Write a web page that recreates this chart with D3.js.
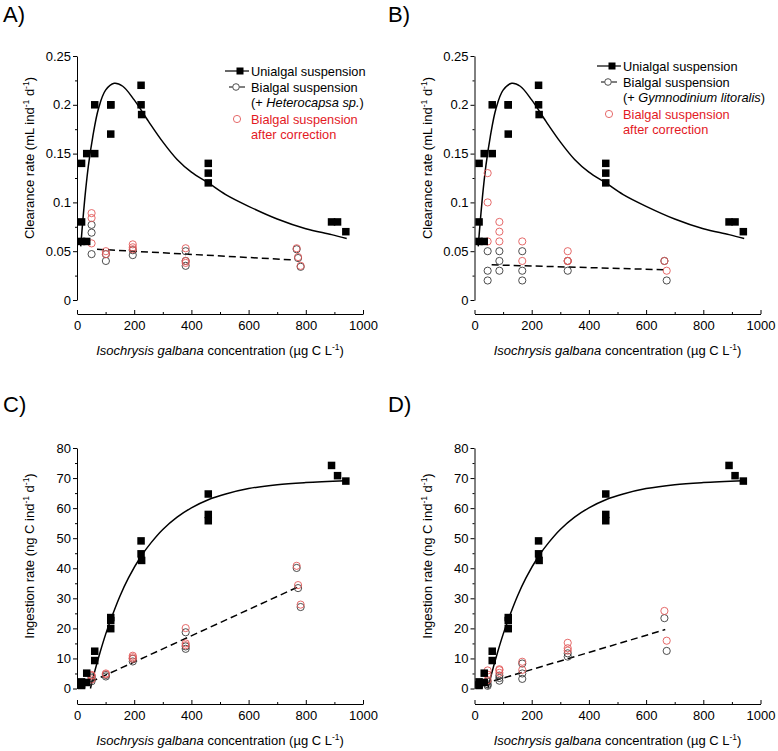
<!DOCTYPE html>
<html><head><meta charset="utf-8">
<script src="https://cdn.jsdelivr.net/npm/d3@7/dist/d3.min.js"></script>
<style>body{margin:0;background:#fff}svg{display:block}text{font-family:"Liberation Sans",Arial,sans-serif}</style>
</head><body>
<svg id="c" width="778" height="751"></svg>
<script>
// ---------- DATA ----------
const panelLetters = ["A)", "B)", "C)", "D)"];
const xTicks = [0, 200, 400, 600, 800, 1000];
const xMinorTicks = [100, 300, 500, 700, 900];
const clearTicks = [0, 0.05, 0.1, 0.15, 0.2, 0.25];
const clearMinor = [0.025, 0.075, 0.125, 0.175, 0.225];
const ingTicks = [0, 10, 20, 30, 40, 50, 60, 70, 80];
const ingMinor = [5, 15, 25, 35, 45, 55, 65, 75];

// Unialgal suspension (I. galbana alone)
const uniConc   = [16, 16, 16, 34, 34, 62, 62, 118, 118, 118, 224, 224, 226, 459, 459, 459, 890, 911, 940];
const uniClear  = [0.14, 0.08, 0.06, 0.06, 0.15, 0.15, 0.20, 0.20, 0.20, 0.17, 0.20, 0.22, 0.19, 0.14, 0.13, 0.12, 0.08, 0.08, 0.07];
const uniIngest = [2.2, 1.3, 1.0, 2.0, 5.1, 9.3, 12.4, 23.6, 22.6, 19.9, 44.8, 49.1, 42.6, 64.7, 57.9, 55.8, 74.2, 70.8, 69.0];

// fitted curves
const fitClearConc = [13, 20, 30, 40, 55, 75, 100, 130, 160, 200, 250, 300, 350, 400, 459, 520, 600, 700, 800, 890, 943];
const fitClearVal  = [0.055, 0.080, 0.112, 0.138, 0.167, 0.196, 0.215, 0.222, 0.219, 0.205, 0.183, 0.162, 0.144, 0.131, 0.120, 0.108, 0.096, 0.083, 0.073, 0.067, 0.063];
const fitIngConc = [47, 62, 80, 100, 118, 150, 180, 224, 260, 300, 350, 400, 459, 520, 600, 700, 800, 940];
const fitIngVal  = [0, 5.7, 11.8, 18.0, 22.9, 30.7, 36.8, 44.0, 48.6, 52.9, 57.0, 60.1, 62.8, 64.7, 66.5, 67.8, 68.5, 69.1];

// Bialgal suspension (+ Heterocapsa sp.)
const hetBlackConc  = [51, 51, 51, 101, 101, 195, 195, 380, 380, 380, 768, 773, 782];
const hetBlackClear = [0.047, 0.069, 0.077, 0.040, 0.047, 0.051, 0.046, 0.050, 0.040, 0.035, 0.052, 0.043, 0.034];
const hetBlackIng   = [2.4, 3.5, 4.0, 4.0, 4.5, 9.9, 9.0, 18.7, 14.0, 13.2, 40.1, 33.4, 27.1];
const hetRedConc    = [51, 51, 51, 101, 101, 195, 195, 195, 380, 380, 380, 768, 773, 782];
const hetRedClear   = [0.089, 0.084, 0.058, 0.050, 0.047, 0.057, 0.054, 0.052, 0.053, 0.040, 0.038, 0.053, 0.044, 0.035];
const hetRedIng     = [4.5, 4.3, 3.0, 5.0, 4.7, 10.9, 10.4, 9.9, 20.1, 15.0, 14.4, 40.8, 34.4, 27.9];
const hetFitConc  = [70, 760];
const hetFitClear = [0.052, 0.041];
const hetFitIngConc = [48, 773];
const hetFitIng     = [2.2, 33.8];

// Bialgal suspension (+ Gymnodinium litoralis)
const gymBlackConc  = [46, 46, 46, 87, 87, 87, 167, 167, 167, 326, 326, 664, 672];
const gymBlackClear = [0.05, 0.03, 0.02, 0.05, 0.04, 0.03, 0.05, 0.03, 0.02, 0.04, 0.03, 0.04, 0.02];
const gymBlackIng   = [2.3, 1.4, 0.9, 4.3, 3.5, 2.6, 8.3, 5.0, 3.2, 11.7, 10.6, 23.4, 12.5];
const gymRedConc    = [46, 46, 46, 87, 87, 87, 167, 167, 326, 326, 326, 664, 672];
const gymRedClear   = [0.13, 0.10, 0.06, 0.08, 0.07, 0.06, 0.06, 0.04, 0.05, 0.04, 0.04, 0.04, 0.03];
const gymRedIng     = [6.0, 4.6, 2.8, 6.4, 6.1, 5.2, 8.9, 6.2, 15.2, 13.4, 12.6, 25.8, 15.9];
const gymFitConc  = [60, 663];
const gymFitClear = [0.036, 0.031];
const gymFitIngConc = [31, 667];
const gymFitIng     = [1.5, 19.6];

// ---------- DRAW ----------
const svg = d3.select("#c");
const BLACK_C = "#3a3a3a", RED_C = "#e25a5a", RED_T = "#e3191f";
const FS = 13;

function zip(a, b) { return a.map((v, i) => [v, b[i]]); }

function panel(o) {
  const g = svg.append("g");
  const x = d3.scaleLinear().domain([0, 1000]).range([o.x0, o.x0 + 286]);
  const y = d3.scaleLinear().domain(o.yDomain).range([o.yBot, o.yTop]);

  // x axis (offset below)
  g.append("g").attr("transform", `translate(0,${o.xAxisY})`)
    .call(d3.axisBottom(x).tickValues(xTicks).tickSize(-4).tickSizeOuter(0).tickPadding(6.5).tickFormat(d3.format("d")));
  g.append("g").attr("transform", `translate(0,${o.xAxisY})`)
    .call(d3.axisBottom(x).tickValues(xMinorTicks).tickSize(-2).tickSizeOuter(0).tickFormat(""))
    .select(".domain").remove();
  // y axis
  g.append("g").attr("transform", `translate(${o.x0},0)`)
    .call(d3.axisLeft(y).tickValues(o.yTicks).tickSize(4).tickSizeOuter(0).tickPadding(2).tickFormat(o.fmt));
  g.append("g").attr("transform", `translate(${o.x0},0)`)
    .call(d3.axisLeft(y).tickValues(o.yMinor).tickSize(2).tickSizeOuter(0).tickFormat(""))
    .select(".domain").remove();
  g.selectAll(".tick text").attr("font-size", FS).attr("font-family", "Liberation Sans, Arial, sans-serif").attr("fill", "#000");
  g.selectAll(".domain, .tick line").attr("stroke", "#000").attr("stroke-width", 1);

  // x title
  const xt = g.append("text").attr("x", o.x0 + 143).attr("y", o.xAxisY + 41).attr("text-anchor", "middle").attr("font-size", FS);
  xt.append("tspan").attr("font-style", "italic").text("Isochrysis galbana");
  xt.append("tspan").text(" concentration (µg C L");
  xt.append("tspan").attr("dy", -5).attr("font-size", 8.5).text("-1");
  xt.append("tspan").attr("dy", 5).text(")");
  // y title
  const yt = g.append("text").attr("transform", `translate(${o.x0 - 43},${o.yTitleY}) rotate(-90)`).attr("text-anchor", "middle").attr("font-size", FS);
  o.yTitle.forEach(p => {
    const t = yt.append("tspan").text(p.t);
    if (p.sup) t.attr("dy", -5).attr("font-size", 8.5);
    if (p.down) t.attr("dy", 5);
  });
  // panel letter
  g.append("text").attr("x", o.letterX).attr("y", o.letterY).attr("font-family", "Liberation Serif, Times New Roman, serif").attr("font-size", 22).text(o.letter);

  // fitted lines
  g.append("path").datum(zip(o.fitX, o.fitY)).attr("fill", "none").attr("stroke", "#000").attr("stroke-width", 1.5)
    .attr("d", d3.line().x(d => x(d[0])).y(d => y(d[1])).curve(d3.curveCatmullRom.alpha(0.5)));
  g.append("path").datum(zip(o.dashX, o.dashY)).attr("fill", "none").attr("stroke", "#000").attr("stroke-width", 1.5)
    .attr("stroke-dasharray", "7,4").attr("d", d3.line().x(d => x(d[0])).y(d => y(d[1])));

  // circles
  g.selectAll(".bc").data(zip(o.bX, o.bY)).join("circle").attr("cx", d => x(d[0])).attr("cy", d => y(d[1]))
    .attr("r", 3.6).attr("fill", "none").attr("stroke", BLACK_C).attr("stroke-width", 0.9);
  g.selectAll(".rc").data(zip(o.rX, o.rY)).join("circle").attr("cx", d => x(d[0])).attr("cy", d => y(d[1]))
    .attr("r", 3.6).attr("fill", "none").attr("stroke", RED_C).attr("stroke-width", 0.9);
  // squares
  g.selectAll(".sq").data(zip(uniConc, o.uniY)).join("rect").attr("x", d => x(d[0]) - 3.75).attr("y", d => y(d[1]) - 3.75)
    .attr("width", 7.5).attr("height", 7.5).attr("fill", "#000");

  // legend
  if (o.legend) {
    const L = o.legend, lx = L.x, ly = L.y, gl = g.append("g").attr("font-size", 12.8);
    gl.append("line").attr("x1", lx - 26).attr("x2", lx - 2).attr("y1", ly).attr("y2", ly).attr("stroke", "#000").attr("stroke-width", 1.2);
    gl.append("rect").attr("x", lx - 14.5).attr("y", ly - 3.5).attr("width", 7).attr("height", 7).attr("fill", "#000");
    gl.append("text").attr("x", lx).attr("y", ly + 4.5).text("Unialgal suspension");
    gl.append("line").attr("x1", lx - 22).attr("x2", lx - 18.5).attr("y1", ly + 16).attr("y2", ly + 16).attr("stroke", "#000");
    gl.append("line").attr("x1", lx - 11.5).attr("x2", lx - 6).attr("y1", ly + 16).attr("y2", ly + 16).attr("stroke", "#000");
    gl.append("circle").attr("cx", lx - 15).attr("cy", ly + 16).attr("r", 3.3).attr("fill", "none").attr("stroke", BLACK_C).attr("stroke-width", 0.9);
    gl.append("text").attr("x", lx).attr("y", ly + 20.5).text("Bialgal suspension");
    const t3 = gl.append("text").attr("x", lx).attr("y", ly + 36);
    t3.append("tspan").text("(+ ");
    t3.append("tspan").attr("font-style", "italic").text(L.sp);
    t3.append("tspan").text(L.after);
    gl.append("circle").attr("cx", lx - 14).attr("cy", ly + 48).attr("r", 3.6).attr("fill", "none").attr("stroke", RED_C).attr("stroke-width", 0.9);
    gl.append("text").attr("x", lx).attr("y", ly + 52.5).attr("fill", RED_T).text("Bialgal suspension");
    gl.append("text").attr("x", lx).attr("y", ly + 68).attr("fill", RED_T).text("after correction");
  }
}

const clearTitle = [{t: "Clearance rate (mL ind"}, {t: "-1", sup: true}, {t: " d", down: true}, {t: "-1", sup: true}, {t: ")", down: true}];
const ingTitle = [{t: "Ingestion rate (ng C ind"}, {t: "-1", sup: true}, {t: " d", down: true}, {t: "-1", sup: true}, {t: ")", down: true}];
const fmtClear = d => d === 0 ? "0" : String(d);

panel({letter: panelLetters[0], letterX: 3, letterY: 22, x0: 77, yDomain: [0, 0.25], yBot: 300, yTop: 56, xAxisY: 314,
  yTicks: clearTicks, yMinor: clearMinor, fmt: fmtClear, yTitle: clearTitle, yTitleY: 158,
  fitX: fitClearConc, fitY: fitClearVal, dashX: hetFitConc, dashY: hetFitClear,
  bX: hetBlackConc, bY: hetBlackClear, rX: hetRedConc, rY: hetRedClear, uniY: uniClear,
  legend: {x: 251, y: 71, sp: "Heterocapsa sp.", after: ")"}});
panel({letter: panelLetters[1], letterX: 388, letterY: 22, x0: 474.5, yDomain: [0, 0.25], yBot: 300, yTop: 56, xAxisY: 314,
  yTicks: clearTicks, yMinor: clearMinor, fmt: fmtClear, yTitle: clearTitle, yTitleY: 158,
  fitX: fitClearConc, fitY: fitClearVal, dashX: gymFitConc, dashY: gymFitClear,
  bX: gymBlackConc, bY: gymBlackClear, rX: gymRedConc, rY: gymRedClear, uniY: uniClear,
  legend: {x: 623, y: 66, sp: "Gymnodinium litoralis", after: ")"}});
panel({letter: panelLetters[2], letterX: 3, letterY: 412, x0: 77, yDomain: [0, 80], yBot: 688.5, yTop: 448, xAxisY: 704,
  yTicks: ingTicks, yMinor: ingMinor, fmt: d3.format("d"), yTitle: ingTitle, yTitleY: 556,
  fitX: fitIngConc, fitY: fitIngVal, dashX: hetFitIngConc, dashY: hetFitIng,
  bX: hetBlackConc, bY: hetBlackIng, rX: hetRedConc, rY: hetRedIng, uniY: uniIngest});
panel({letter: panelLetters[3], letterX: 388, letterY: 412, x0: 474.5, yDomain: [0, 80], yBot: 688.5, yTop: 448, xAxisY: 704,
  yTicks: ingTicks, yMinor: ingMinor, fmt: d3.format("d"), yTitle: ingTitle, yTitleY: 556,
  fitX: fitIngConc, fitY: fitIngVal, dashX: gymFitIngConc, dashY: gymFitIng,
  bX: gymBlackConc, bY: gymBlackIng, rX: gymRedConc, rY: gymRedIng, uniY: uniIngest});
</script>
</body></html>
